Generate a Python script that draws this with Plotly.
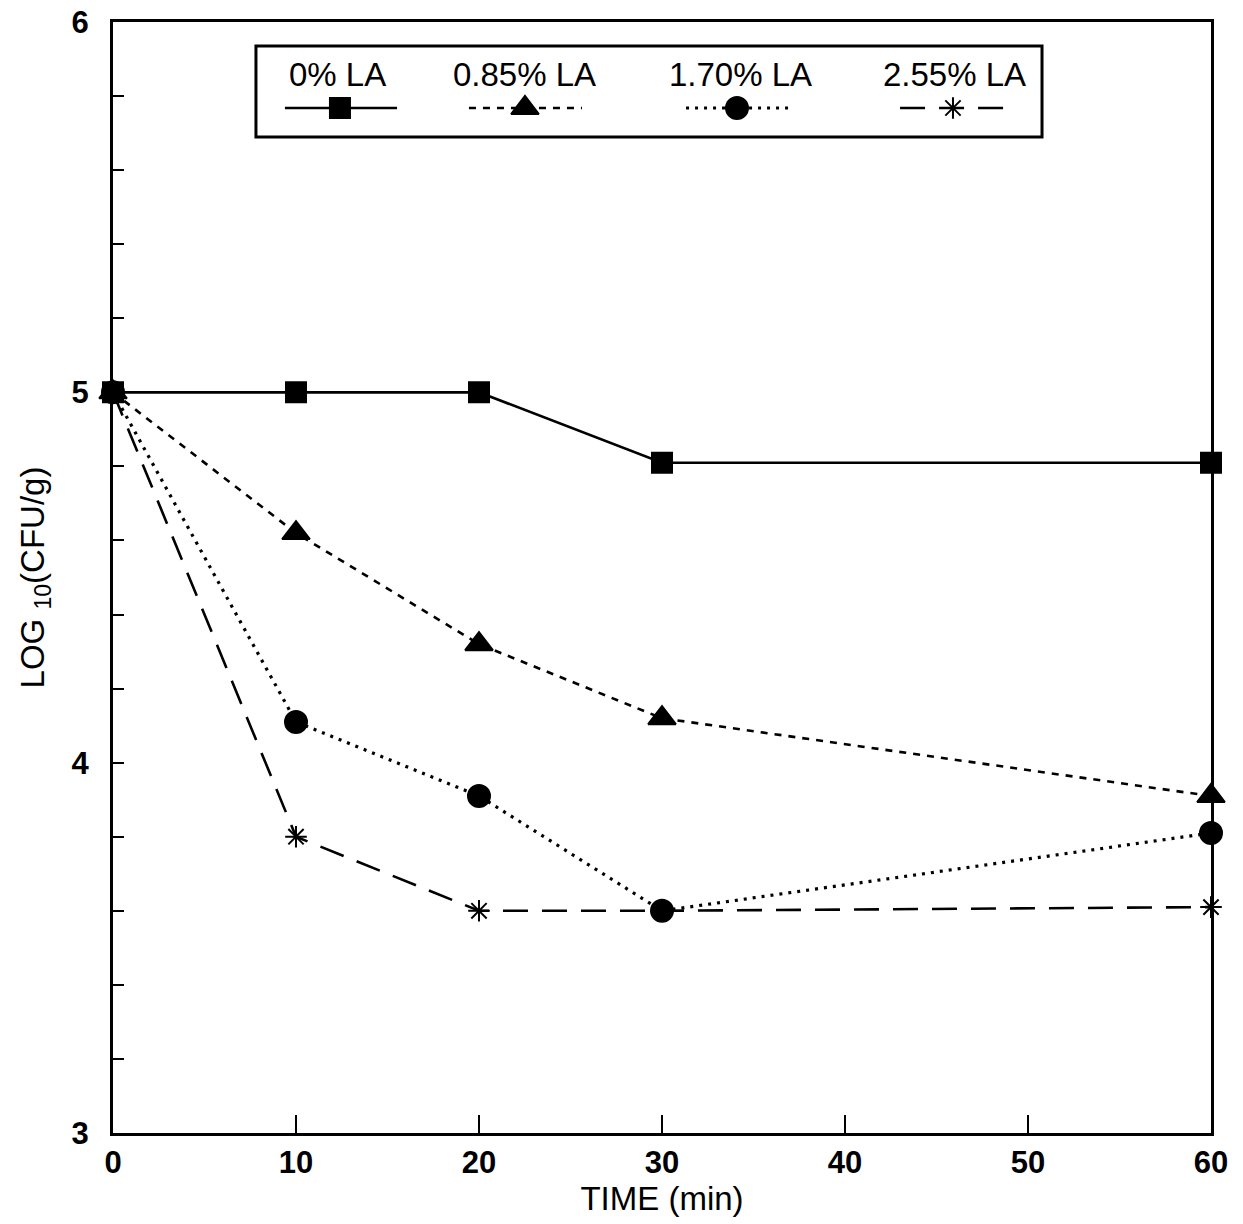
import plotly.graph_objects as go

# ---- data ----
time_min = [0, 10, 20, 30, 60]
series_names = ["0% LA", "0.85% LA", "1.70% LA", "2.55% LA"]
la_0 = [5.0, 5.0, 5.0, 4.81, 4.81]
la_085 = [5.0, 4.62, 4.32, 4.12, 3.91]
la_170 = [5.0, 4.11, 3.91, 3.60, 3.81]
la_255 = [5.0, 3.80, 3.60, 3.60, 3.61]
x_ticks = [0, 10, 20, 30, 40, 50, 60]
y_ticks = [3, 4, 5, 6]

FONT = "Liberation Sans, Arial, Helvetica, sans-serif"

styles = [
    dict(dash="solid", symbol="square", size=20, width=2.6),
    dict(dash="7px,7px", symbol="triangle-up", size=24, width=2.6),
    dict(dash="3px,6px", symbol="circle", size=22, width=3.2),
    dict(dash="25px,14px", symbol="asterisk-open", size=18, width=2.6),
]
values = [la_0, la_085, la_170, la_255]

fig = go.Figure()

# draw order: so that the square sits on top at t=0
for name, vals, st in reversed(list(zip(series_names, values, styles))):
    fig.add_trace(go.Scatter(
        x=time_min, y=vals, name=name, mode="lines+markers",
        line=dict(color="black", width=st["width"], dash=st["dash"]),
        marker=dict(symbol=st["symbol"], size=st["size"], color="black", opacity=1,
                    line=dict(color="black", width=2)),
        cliponaxis=False, showlegend=False,
    ))

# ---- custom legend (label above sample) on an overlay axis in paper units ----
leg_line_x = [(0.1566, 0.2067, 0.2587), (0.3242, 0.3752, 0.4271),
              (0.5219, 0.5683, 0.6175), (0.7168, 0.7650, 0.8142)]
leg_label_x = [0.2049, 0.3752, 0.5719, 0.7668]
leg_line_y = 0.9226
leg_label_y = 0.9523

for name, st, (x0, xm, x1), lx in zip(series_names, styles, leg_line_x, leg_label_x):
    fig.add_trace(go.Scatter(
        x=[x0, x1], y=[leg_line_y] * 2, mode="lines",
        xaxis="x2", yaxis="y2",
        line=dict(color="black", width=st["width"], dash=st["dash"]),
        showlegend=False, hoverinfo="skip", cliponaxis=False,
    ))
    fig.add_trace(go.Scatter(
        x=[xm], y=[leg_line_y], mode="markers",
        xaxis="x2", yaxis="y2",
        marker=dict(symbol=st["symbol"], size=st["size"], color="black", opacity=1,
                    line=dict(color="black", width=2)),
        showlegend=False, hoverinfo="skip", cliponaxis=False,
    ))
    fig.add_annotation(
        x=lx, y=leg_label_y, xref="paper", yref="paper", text=name,
        showarrow=False, font=dict(family=FONT, size=33, color="black"),
        xanchor="center", yanchor="middle",
    )

fig.add_shape(type="rect", xref="paper", yref="paper",
              x0=0.1302, x1=0.8461, y0=0.8965, y1=0.9784,
              line=dict(color="black", width=3), fillcolor="rgba(0,0,0,0)")

fig.update_layout(
    width=1243, height=1224,
    margin=dict(l=113, r=32, t=22, b=91, autoexpand=False),
    paper_bgcolor="white", plot_bgcolor="white",
    font=dict(family=FONT, color="black"),
    showlegend=False,
    xaxis=dict(
        range=[0, 60], tickvals=x_ticks, ticktext=[str(v) for v in x_ticks],
        ticks="inside", ticklen=18, tickwidth=2, tickcolor="black",
        showline=True, linecolor="black", linewidth=3, mirror=True,
        showgrid=False, zeroline=False, automargin=False,
        tickfont=dict(family=FONT, size=31, color="black", weight="bold"),
        title=dict(text="TIME (min)", font=dict(family=FONT, size=33, color="black"),
                   standoff=2),
    ),
    yaxis=dict(
        range=[3, 6], tickvals=y_ticks, ticktext=[str(v) for v in y_ticks],
        ticks="inside", ticklen=11, tickwidth=2, tickcolor="black",
        minor=dict(dtick=0.2, ticks="inside", ticklen=11, tickwidth=2, tickcolor="black"),
        showline=True, linecolor="black", linewidth=3, mirror=True,
        showgrid=False, zeroline=False, automargin=False,
        ticklabelstandoff=15,
        tickfont=dict(family=FONT, size=31, color="black", weight="bold"),
        title=dict(text="LOG <sub>10</sub>(CFU/g)",
                   font=dict(family=FONT, size=33, color="black"), standoff=17),
    ),
    xaxis2=dict(range=[0, 1], domain=[0, 1], overlaying="x", visible=False, fixedrange=True),
    yaxis2=dict(range=[0, 1], domain=[0, 1], overlaying="y", visible=False, fixedrange=True),
)

fig.write_html("out.html")
